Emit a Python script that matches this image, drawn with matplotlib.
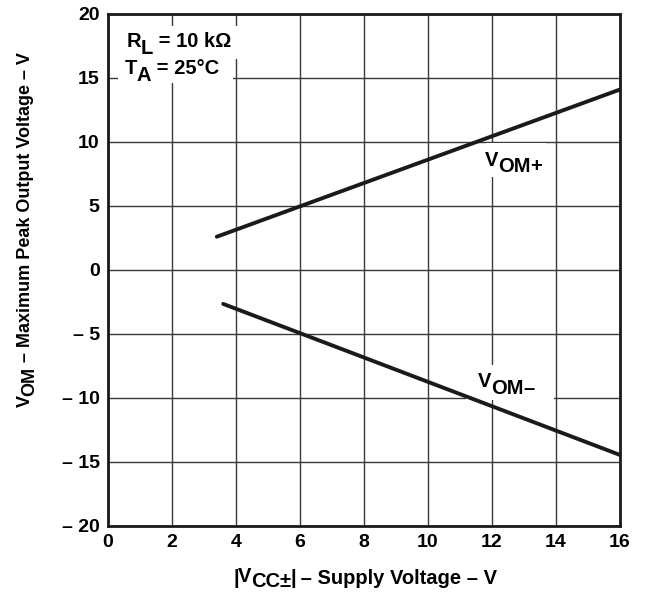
import numpy as np
import matplotlib
matplotlib.use("Agg")
import matplotlib.pyplot as plt
from matplotlib.patches import Rectangle
from matplotlib.transforms import IdentityTransform

plt.rcParams['font.family'] = ['Liberation Sans', 'DejaVu Sans']
plt.rcParams['font.weight'] = 'bold'

# supply voltage endpoints and peak output voltages
vcc_pos = [3.4, 16.0]
vom_pos = [2.6, 14.1]
vcc_neg = [3.6, 16.0]
vom_neg = [-2.65, -14.45]

x_ticks = [0, 2, 4, 6, 8, 10, 12, 14, 16]
y_ticks = [-20, -15, -10, -5, 0, 5, 10, 15, 20]
y_labels = ['\u2013 20', '\u2013 15', '\u2013 10', '\u2013 5', '0', '5', '10', '15', '20']

W, H = 652, 594
fig = plt.figure(figsize=(W / 100, H / 100), dpi=100)
ax = fig.add_axes([108 / W, 1 - 526 / H, 512 / W, 512 / H])

ax.plot(vcc_pos, vom_pos, color='#1a1a1a', lw=2.8, solid_capstyle='round', zorder=4)
ax.plot(vcc_neg, vom_neg, color='#1a1a1a', lw=2.8, solid_capstyle='round', zorder=4)

ax.set_xlim(0, 16)
ax.set_ylim(-20, 20)
ax.set_xticks(x_ticks)
ax.set_yticks(y_ticks)
ax.set_yticklabels(y_labels)
ax.tick_params(length=0, labelsize=14)
ax.tick_params(axis='x', pad=6)
ax.tick_params(axis='y', pad=6)
for lab in ax.get_xticklabels() + ax.get_yticklabels():
    lab.set_fontweight('bold')
ax.grid(True, color='#3a3a3a', lw=1.0, zorder=1)
ax.set_axisbelow(True)
for s in ax.spines.values():
    s.set_linewidth(2)
    s.set_color('#1a1a1a')

# white patches behind the labels that hide the grid
for (x0, y0, w, h) in [(0.3, 16.5, 3.75, 2.6), (0.3, 14.6, 3.6, 2.0),
                       (11.8, 7.3, 1.9, 2.6), (11.2, -10.15, 2.75, 2.7)]:
    ax.add_patch(Rectangle((x0, y0), w, h, facecolor='white', edgecolor='none', zorder=2))

fig.canvas.draw()
rend = fig.canvas.get_renderer()


def rich(x0, y0, parts, size, rot=0, ha='left'):
    # x0, y0 in pixels from the top-left corner, parts = (text, drop in px)
    adv = (1, 0) if rot == 0 else (0, 1)
    down = (0, -1) if rot == 0 else (1, 0)
    texts, offs, pos = [], [], 0.0
    for s, drop in parts:
        t = fig.text(0, 0, s, fontsize=size, fontweight='bold', rotation=rot,
                     rotation_mode='anchor', ha='left', va='baseline',
                     transform=IdentityTransform(), zorder=5)
        bb = t.get_window_extent(rend)
        texts.append((t, drop))
        offs.append(pos)
        pos += (bb.width if rot == 0 else bb.height) - 0.5
    start = -pos / 2 if ha == 'center' else 0.0
    bx, by = x0, H - y0
    for (t, drop), o in zip(texts, offs):
        t.set_position((bx + (start + o) * adv[0] + drop * down[0],
                        by + (start + o) * adv[1] + drop * down[1]))


rich(127, 47, [('R', 0), ('L', 7), (' = 10 k\u03a9', 0)], 14.5)
rich(125, 74, [('T', 0), ('A', 7), (' = 25\u00b0C', 0)], 14.5)
rich(485, 166, [('V', 0), ('OM', 6), ('+', 6)], 14.5)
rich(478, 387, [('V', 0), ('OM', 7), ('\u2013', 7)], 14.5)
rich(30, 230, [('V', 0), ('OM', 4), (' \u2013 Maximum Peak Output Voltage \u2013 V', 0)],
     13, rot=90, ha='center')
rich(365, 584, [('|', 0), ('V', -2), ('CC', 3), ('\u00b1', 3), ('|', 0),
                (' \u2013 Supply Voltage \u2013 V', 0)], 14.5, ha='center')

fig.savefig('out.png', dpi=100)
